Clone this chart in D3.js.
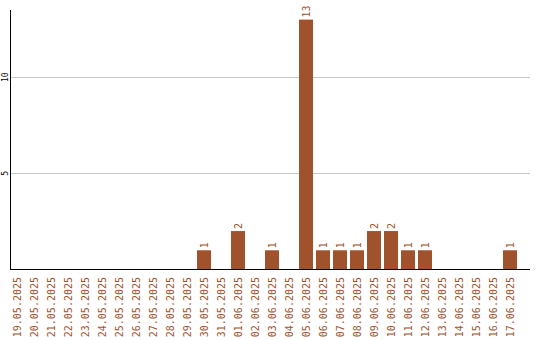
<!DOCTYPE html>
<html><head><meta charset="utf-8">
<script src="https://cdn.jsdelivr.net/npm/d3@7"></script>
<style>body{margin:0;background:#fff}svg{display:block}</style>
</head><body>
<script>
const dates = ["19.05.2025","20.05.2025","21.05.2025","22.05.2025","23.05.2025","24.05.2025","25.05.2025","26.05.2025","27.05.2025","28.05.2025","29.05.2025","30.05.2025","31.05.2025","01.06.2025","02.06.2025","03.06.2025","04.06.2025","05.06.2025","06.06.2025","07.06.2025","08.06.2025","09.06.2025","10.06.2025","11.06.2025","12.06.2025","13.06.2025","14.06.2025","15.06.2025","16.06.2025","17.06.2025"];
const counts = [0,0,0,0,0,0,0,0,0,0,0,1,0,2,0,1,0,13,1,1,1,2,2,1,1,0,0,0,0,1];
const yTicks = [5,10];

const W=540,H=340;
const svg=d3.select("body").append("svg").attr("width",W).attr("height",H);
const color="#a0522d";
const font="DejaVu Sans Mono";
const x=d3.scaleBand().domain(dates).range([10,517]).paddingInner(3/17).paddingOuter(0);
const y=d3.scaleLinear().domain([0,13.5]).range([269.5,10]);

// gridlines
svg.append("g").selectAll("line").data(yTicks).join("line")
  .attr("x1",11).attr("x2",530).attr("y1",d=>Math.round(y(d))+0.5).attr("y2",d=>Math.round(y(d))+0.5)
  .attr("stroke","#c8c8c8").attr("stroke-width",1);

// y tick labels
svg.append("g").selectAll("text").data(yTicks).join("text")
  .attr("transform",d=>`translate(8,${y(d)}) rotate(-90)`)
  .attr("text-anchor","middle").attr("font-family",font).attr("font-size",8)
  .attr("fill","#000").text(d=>d);

// bars
const data=dates.map((d,i)=>({d,v:counts[i]}));
svg.append("g").selectAll("rect").data(data.filter(e=>e.v>0)).join("rect")
  .attr("x",e=>x(e.d)).attr("width",x.bandwidth())
  .attr("y",e=>y(e.v)).attr("height",e=>y(0)-y(e.v)).attr("fill",color);

// value labels
svg.append("g").selectAll("text").data(data.filter(e=>e.v>0)).join("text")
  .attr("transform",e=>`translate(${x(e.d)+x.bandwidth()/2+3.5},${y(e.v)-2}) rotate(-90)`)
  .attr("font-family",font).attr("font-size",10).attr("fill",color).text(e=>e.v);

// axes lines
svg.append("line").attr("x1",10.5).attr("x2",10.5).attr("y1",10).attr("y2",270).attr("stroke","#000");
svg.append("line").attr("x1",10).attr("x2",530).attr("y1",269.5).attr("y2",269.5).attr("stroke","#000");

// x labels
svg.append("g").selectAll("text").data(dates).join("text")
  .attr("transform",d=>`translate(${x(d)+x.bandwidth()/2+3.5},277) rotate(-90)`)
  .attr("text-anchor","end").attr("font-family",font).attr("font-size",10)
  .attr("fill",color).text(d=>d);
</script>
</body></html>
